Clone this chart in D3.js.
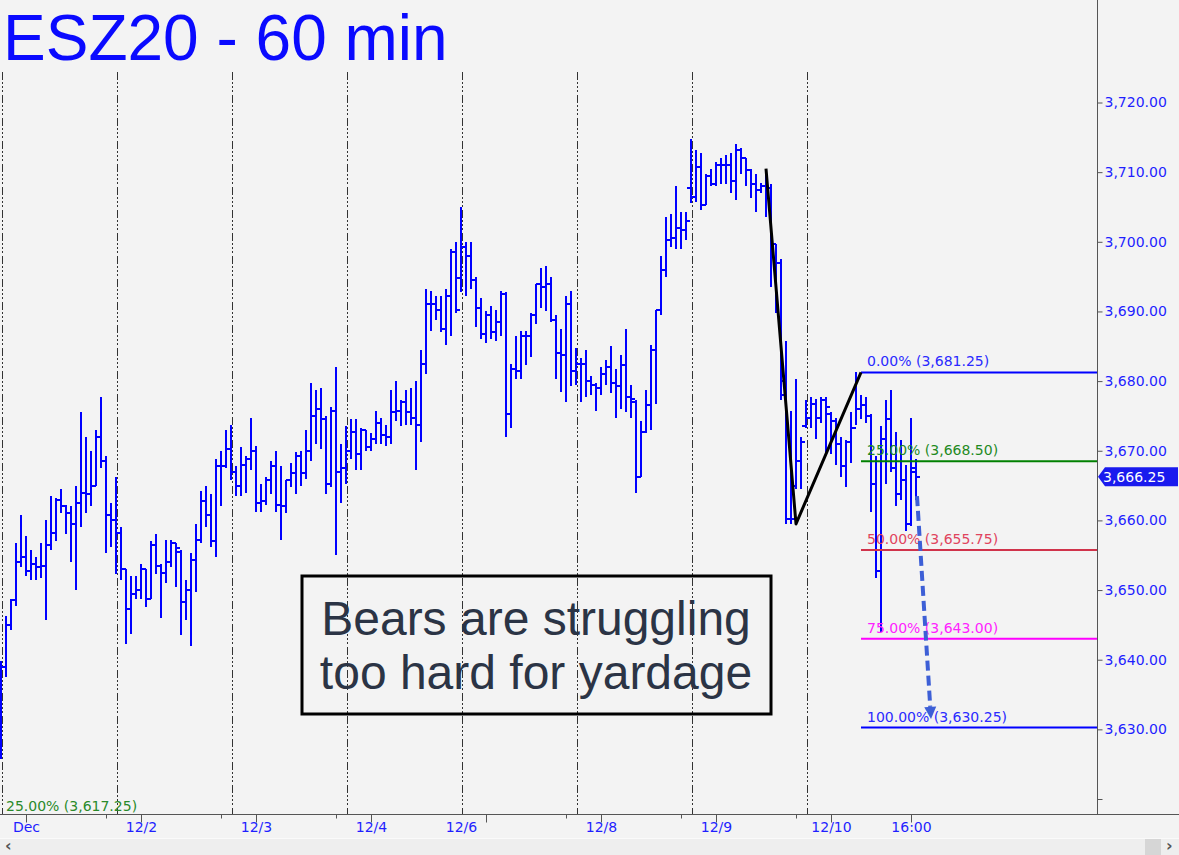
<!DOCTYPE html>
<html><head><meta charset="utf-8">
<script src="https://cdn.jsdelivr.net/npm/d3@7"></script>
<style>html,body{margin:0;padding:0;background:#f3f3f3;overflow:hidden;} svg{display:block;}</style>
</head><body>
<svg id="chart" width="1179" height="855"></svg>
<script>
// ---- data: hourly OHLC bars (ESZ20, 60 min) ----
const highs = [3639.75,3646.25,3648.75,3656.75,3660.75,3657.75,3655.75,3654.75,3656.75,3660,
3663.5,3663.25,3664.5,3662.25,3662,3665,3675.5,3672,3670,3673,
3677.75,3669.25,3662.5,3666.25,3659,3653,3652,3652,3653.75,3653,
3657,3658,3653.75,3657.25,3657.25,3656.75,3655.75,3651.5,3655.25,3659.5,
3664.25,3665,3663.75,3668.75,3670,3673,3673.75,3667.75,3670.5,3669.25,
3674.75,3670.75,3665.25,3666.25,3668.5,3670,3667.75,3665.75,3668.25,3669.75,
3670,3673,3679.75,3678.75,3679,3675,3676.25,3682,3671,3673.5,
3674.5,3674.5,3673.25,3673,3672.5,3675.75,3674.75,3673.75,3678.75,3680,
3677.25,3678.75,3679,3680,3684.5,3693.25,3693,3692.25,3692.25,3693.25,
3699,3700,3705,3700,3700,3695,3692,3690,3690.75,3690.25,
3693,3692.75,3682.5,3686.5,3687.25,3687.25,3689.75,3694,3696.25,3696.5,
3695,3689.5,3687.5,3692.25,3693,3684.75,3683.25,3684.5,3680.75,3679.75,
3682,3683,3685,3681.75,3683.75,3687.5,3679.5,3677.25,3674.25,3678.75,
3685.25,3690.25,3698,3703.5,3704,3708,3704.25,3704.25,3714.75,3713.25,
3712.75,3709.75,3710.5,3711.5,3712,3712.5,3712.75,3714,3713.5,3712,
3710.5,3709.75,3708.5,3710.5,3708.25,3699.75,3697.5,3685.75,3675.75,3680.25,
3672,3677.25,3677.75,3677.5,3677.75,3677.75,3675.5,3674.75,3672,3671.5,
3675.5,3681.25,3678,3677.75,3675.25,3669.25,3673.5,3677.25,3678.75,3672.75,
3671.5,3668,3674.75,3668.75];
const lows = [3625.75,3637.5,3644.25,3647.75,3653.25,3652,3651.5,3651.5,3651.75,3645.75,
3655.75,3657,3661,3658,3654,3650,3659,3661,3662,3665,
3667.5,3655.25,3656.25,3652.25,3651.5,3642.25,3643.75,3648.75,3648.75,3647.5,
3648.75,3652.25,3646,3651,3653.25,3650.5,3643.5,3645.75,3642,3649.75,
3656.75,3659,3656.25,3654.75,3662,3667.5,3665.75,3663.5,3663.5,3664,
3667.25,3661.25,3661.25,3662.25,3663.75,3661.25,3657.25,3661,3664.75,3663.75,
3665,3666,3668.5,3671,3670.25,3663.75,3664.75,3655,3662.5,3665.25,
3668.75,3667.25,3667.25,3670,3670,3671,3671,3670.75,3671,3674.25,
3673.5,3673.75,3673.75,3667.25,3671.25,3681,3687.25,3688.75,3687,3685.25,
3686.5,3689.75,3692.75,3692.25,3693.25,3687.75,3686,3685.5,3686,3685.75,
3686.5,3672,3673.25,3680.25,3680.25,3682.25,3683.5,3688.25,3690.5,3690,
3688.5,3680.25,3678.5,3677,3679.25,3679.5,3677,3677.75,3678,3675.75,
3678,3679.5,3678.25,3674.75,3676,3675.5,3674.75,3664,3666.25,3672.5,
3673,3676.75,3689.5,3695,3699.25,3699,3699,3700.25,3705.5,3705.75,
3704.5,3705.25,3708,3708,3708.25,3708.25,3707,3706,3709.75,3708,
3706.25,3704.25,3707,3703.5,3693.5,3689.75,3677.25,3659.5,3659.5,3664.5,
3664.5,3673.25,3673.25,3671.75,3674,3669.5,3669.5,3668,3666.25,3664.75,
3668.25,3673.75,3674.5,3674,3661.25,3651.75,3644,3665.25,3667,3662,
3663,3658.5,3659.25,3663];
const opens = [3627.75,3639,3645,3648.5,3654,3654.75,3652.75,3653.75,3653.25,3653.5,
3656.5,3658.25,3663,3662,3661,3659.5,3662.5,3664,3663.75,3665,
3672,3668.5,3660.75,3660,3658.25,3653,3647.25,3649.5,3650,3653,
3648.75,3656.5,3653.5,3652.5,3654,3656.75,3655.5,3648.25,3650,3654.25,
3657.25,3662.75,3660.75,3657,3667.75,3667.75,3670.25,3667,3665,3668,
3668.75,3670,3662.5,3662.75,3665.75,3667.75,3662.25,3662,3665.75,3666.75,
3669.25,3666.75,3670,3675,3676,3674.5,3665.25,3675.75,3667,3667.5,
3670,3672.75,3669.5,3673,3670.5,3671.75,3674,3672.25,3672,3675.5,
3675.75,3677,3675.5,3674.75,3673.75,3682.5,3691,3691,3690.25,3687.5,
3692.25,3698.5,3694.75,3699.25,3698,3694.5,3690.5,3686.75,3689.5,3687,
3688.5,3692.5,3675.25,3681.75,3681.5,3686.5,3686.5,3689.5,3694,3693.5,
3694,3688.75,3684,3683.75,3691,3681.5,3682.5,3682.5,3680,3679.5,
3679,3681,3682,3679.75,3679.25,3682.25,3677.75,3677,3666.25,3672.75,
3676.5,3684.5,3690.25,3696,3700.25,3700.5,3702,3701.75,3707.75,3706.5,
3710.75,3705.25,3709.5,3708.25,3711,3711,3711,3708.75,3713.25,3712,
3710.25,3708.25,3707.5,3708,3707.75,3699.75,3697,3680,3660.25,3665,
3668.5,3673.5,3674.75,3676.75,3674.75,3677.25,3675.25,3674.25,3671,3667.75,
3671.25,3673.25,3676,3676.5,3675,3665.25,3652.75,3671.75,3674.5,3667.5,
3663.75,3665.75,3659.5,3667.5];
const closes = [3639,3645,3648.5,3654,3654.75,3652.75,3653.75,3653.25,3653.5,3656.5,
3658.25,3663,3662,3661,3659.5,3662.5,3664,3663.75,3665,3672,
3668.5,3660.75,3660,3658.25,3653,3647.25,3649.5,3650,3653,3648.75,
3656.5,3653.5,3652.5,3654,3656.75,3656,3648.25,3650,3654.25,3657.25,
3662.75,3660.75,3657,3667.75,3667.75,3670.25,3667,3665,3668,3668.75,
3670,3662.5,3662.75,3665.75,3667.75,3662.25,3662,3665.75,3666.75,3669.25,
3666.75,3670,3675,3676,3674.5,3665.25,3675.75,3667,3667.5,3670,
3672.75,3669.5,3673,3670.5,3671.75,3674,3672.25,3672,3675.5,3675.75,
3677,3675.5,3674.75,3673.75,3682.5,3691,3691,3690.25,3687.5,3692.25,
3698.5,3690.25,3699.25,3698,3694.5,3690.5,3686.75,3689.5,3687,3688.5,
3692.5,3675.25,3681.75,3681.5,3686.5,3686.5,3689.5,3694,3693.5,3694,
3688.75,3684,3683.75,3691,3681.5,3682.5,3682.5,3680,3679.5,3679,
3681,3682,3679.75,3679.25,3682.25,3677.75,3677.5,3666.25,3672.75,3676.5,
3684.5,3690.25,3696,3700.25,3700.5,3702,3701.75,3703,3706.5,3710.75,
3705.25,3709.5,3708.25,3711,3711,3711,3708.75,3713.25,3712,3710.25,
3708.25,3707.5,3708,3707.75,3699.75,3697,3678,3660.25,3660.25,3668.5,
3671.25,3674.75,3676.75,3674.75,3677.25,3676.25,3674.25,3671,3667.75,3671.25,
3673.25,3676,3676.5,3675,3665.25,3652.75,3671.75,3674.5,3667.5,3663.75,
3665.75,3659.5,3667,3666.25];

// ---- axes / annotations ----
const yTickValues = [3620,3630,3640,3650,3660,3670,3680,3690,3700,3710,3720];
const yLabelMin = 3630;
const xLabels = ["Dec","12/2","12/3","12/4","12/6","12/8","12/9","12/10","16:00"];
const xLabelBars = [5,28,51,74,92,120,143,166,182];
const majorTickBars = [5,28,51,74,97,120,143,166,182];
const minorTickBars = [21,44,67,113,136,159];
const sessionStartBars = [0,23,46,69,92,115,138,161];
const fibLevels = [3681.25,3668.5,3655.75,3643,3630.25];
const fibPcts = ["0.00%","25.00%","50.00%","75.00%","100.00%"];
const fibStartBar = 172;
const zigzag = [[153,3710.5],[159,3659.5],[172,3681.25]];
const arrowPts = [[183.2,3663.5],[186,3631.5]];
const lastPrice = 3666.25;
const offLevelText = "25.00% (3,617.25)";
const titleText = "ESZ20 - 60 min";
const noteLines = ["Bears are struggling","too hard for yardage"];

const W = 1179, H = 855;
const axisX = 1097, plotBottom = 814;
const svg = d3.select("#chart");
svg.append("rect").attr("width",W).attr("height",H).attr("fill","#f3f3f3");

const x = d3.scaleLinear().domain([0,183]).range([1,916]);
const y = d3.scaleLinear().domain([3620,3720]).range([799,102.5]);
const fmt = d3.format(",.2f");
const font = "'DejaVu Sans', Verdana, sans-serif";

// session separators
svg.append("g").selectAll("line").data(sessionStartBars).join("line")
  .attr("x1",d=>Math.round(x(d))+1.5).attr("x2",d=>Math.round(x(d))+1.5)
  .attr("y1",72).attr("y2",plotBottom)
  .attr("stroke","#333").attr("stroke-width",1)
  .attr("stroke-dasharray","8,2,2,2,2,2,2,3");

// title
svg.append("text").attr("x",3).attr("y",60).text(titleText)
  .attr("font-family","'Liberation Sans', Arial, sans-serif").attr("font-size",64)
  .attr("fill","#0a0aff");

// OHLC bars
const bars = svg.append("g").attr("stroke","#0000ff").attr("stroke-width",2)
  .attr("shape-rendering","crispEdges");
const idx = d3.range(highs.length);
bars.selectAll("line.hl").data(idx).join("line").attr("class","hl")
  .attr("x1",i=>x(i)).attr("x2",i=>x(i))
  .attr("y1",i=>y(highs[i])).attr("y2",i=>y(lows[i]));
bars.selectAll("line.o").data(idx).join("line").attr("class","o")
  .attr("x1",i=>x(i)-4).attr("x2",i=>x(i))
  .attr("y1",i=>y(opens[i])).attr("y2",i=>y(opens[i]));
bars.selectAll("line.c").data(idx).join("line").attr("class","c")
  .attr("x1",i=>x(i)).attr("x2",i=>x(i)+4)
  .attr("y1",i=>y(closes[i])).attr("y2",i=>y(closes[i]));

// fib levels
const fibLine = ["#0000ff","#008000","#d0334b","#ff00ff","#0000ff"];
const fibText = ["#2a2aff","#1f8a1f","#e0445e","#ff22ff","#2a2aff"];
const fg = svg.append("g");
fibLevels.forEach((lv,k)=>{
  fg.append("line").attr("x1",x(fibStartBar)).attr("x2",axisX)
    .attr("y1",y(lv)).attr("y2",y(lv)).attr("stroke",fibLine[k]).attr("stroke-width",2);
  fg.append("text").attr("x",x(fibStartBar)+6).attr("y",y(lv)-6)
    .text(fibPcts[k]+" ("+fmt(lv)+")")
    .attr("font-family",font).attr("font-size",14).attr("fill",fibText[k]);
});

// zigzag
svg.append("path").datum(zigzag)
  .attr("d",d3.line().x(d=>x(d[0])).y(d=>y(d[1])))
  .attr("fill","none").attr("stroke","#000").attr("stroke-width",3)
  .attr("stroke-linejoin","round");

// dashed projection arrow
const a0 = [x(arrowPts[0][0]), y(arrowPts[0][1])];
const a1 = [x(arrowPts[1][0]), y(arrowPts[1][1])];
const ang = Math.atan2(a1[1]-a0[1], a1[0]-a0[0]);
const headLen = 12, headW = 6;
const base = [a1[0]-headLen*Math.cos(ang), a1[1]-headLen*Math.sin(ang)];
svg.append("line").attr("x1",a0[0]).attr("y1",a0[1]).attr("x2",base[0]).attr("y2",base[1])
  .attr("stroke","#3d5fd6").attr("stroke-width",4).attr("stroke-dasharray","10,5");
svg.append("path").attr("d",d3.line()([
  a1,
  [base[0]+headW*Math.sin(ang), base[1]-headW*Math.cos(ang)],
  [base[0]-headW*Math.sin(ang), base[1]+headW*Math.cos(ang)]
])+"Z").attr("fill","#3d5fd6");

// note box
svg.append("rect").attr("x",302).attr("y",576).attr("width",469).attr("height",138)
  .attr("fill","none").attr("stroke","#000").attr("stroke-width",3);
noteLines.forEach((t,k)=>{
  svg.append("text").attr("x",536).attr("y",635+k*54).attr("text-anchor","middle")
    .text(t).attr("font-family","'Liberation Sans', Arial, sans-serif")
    .attr("font-size",48).attr("fill","#2b3445");
});

// off-screen level label
svg.append("text").attr("x",6).attr("y",811).text(offLevelText)
  .attr("font-family",font).attr("font-size",14).attr("fill","#2a8a2a");

// right axis
svg.append("line").attr("x1",axisX+0.5).attr("x2",axisX+0.5).attr("y1",0).attr("y2",plotBottom)
  .attr("stroke","#555").attr("stroke-width",1);
const ya = svg.append("g").attr("transform",`translate(${axisX+0.5},0)`)
  .call(d3.axisRight(y).tickValues(yTickValues).tickSize(5).tickSizeOuter(0).tickPadding(2)
  .tickFormat(d=> d>=yLabelMin ? fmt(d) : ""));
ya.select(".domain").remove();
ya.selectAll(".tick line").attr("stroke","#555");
ya.selectAll(".tick text").attr("font-family",font).attr("font-size",14).attr("fill","#1f1fff");

// bottom axis
svg.append("line").attr("x1",0).attr("x2",W).attr("y1",plotBottom+0.5).attr("y2",plotBottom+0.5)
  .attr("stroke","#555");
const xm = svg.append("g").attr("transform",`translate(0,${plotBottom+0.5})`)
  .call(d3.axisBottom(x).tickValues(majorTickBars).tickSize(8).tickSizeOuter(0).tickFormat(""));
const xn = svg.append("g").attr("transform",`translate(0,${plotBottom+0.5})`)
  .call(d3.axisBottom(x).tickValues(minorTickBars).tickSize(4).tickSizeOuter(0).tickFormat(""));
const xl = svg.append("g").attr("transform",`translate(0,${plotBottom+0.5})`)
  .call(d3.axisBottom(x).tickValues(xLabelBars).tickSize(0).tickSizeOuter(0).tickPadding(8)
  .tickFormat((d,i)=>xLabels[i]));
[xm,xn,xl].forEach(g=>{g.select(".domain").remove(); g.selectAll(".tick line").attr("stroke","#555");});
xl.selectAll(".tick text").attr("font-family",font).attr("font-size",14).attr("fill","#1f1fff");

// last price tag
const ly = y(lastPrice);
svg.append("path").attr("d",`M${axisX+1},${ly} L${axisX+8},${ly-9.5} L${W-1},${ly-9.5} L${W-1},${ly+9.5} L${axisX+8},${ly+9.5} Z`)
  .attr("fill","#1a1aee");
svg.append("text").attr("x",axisX+6).attr("y",ly+5).text(fmt(lastPrice))
  .attr("font-family",font).attr("font-size",14).attr("fill","#fff");

// scrollbar
svg.append("rect").attr("x",0).attr("y",838).attr("width",W).attr("height",17).attr("fill","#eeeeee");
svg.append("line").attr("x1",0).attr("x2",W).attr("y1",838.5).attr("y2",838.5).attr("stroke","#fafafa");
svg.append("rect").attr("x",1145).attr("y",839).attr("width",16).attr("height",16).attr("fill","#d6d6d6");
svg.append("text").attr("x",5).attr("y",851).text("‹").attr("font-family",font).attr("font-size",16).attr("font-weight","bold").attr("fill","#555");
svg.append("text").attr("x",1166).attr("y",851).text("›").attr("font-family",font).attr("font-size",16).attr("font-weight","bold").attr("fill","#555");
</script>
</body></html>
